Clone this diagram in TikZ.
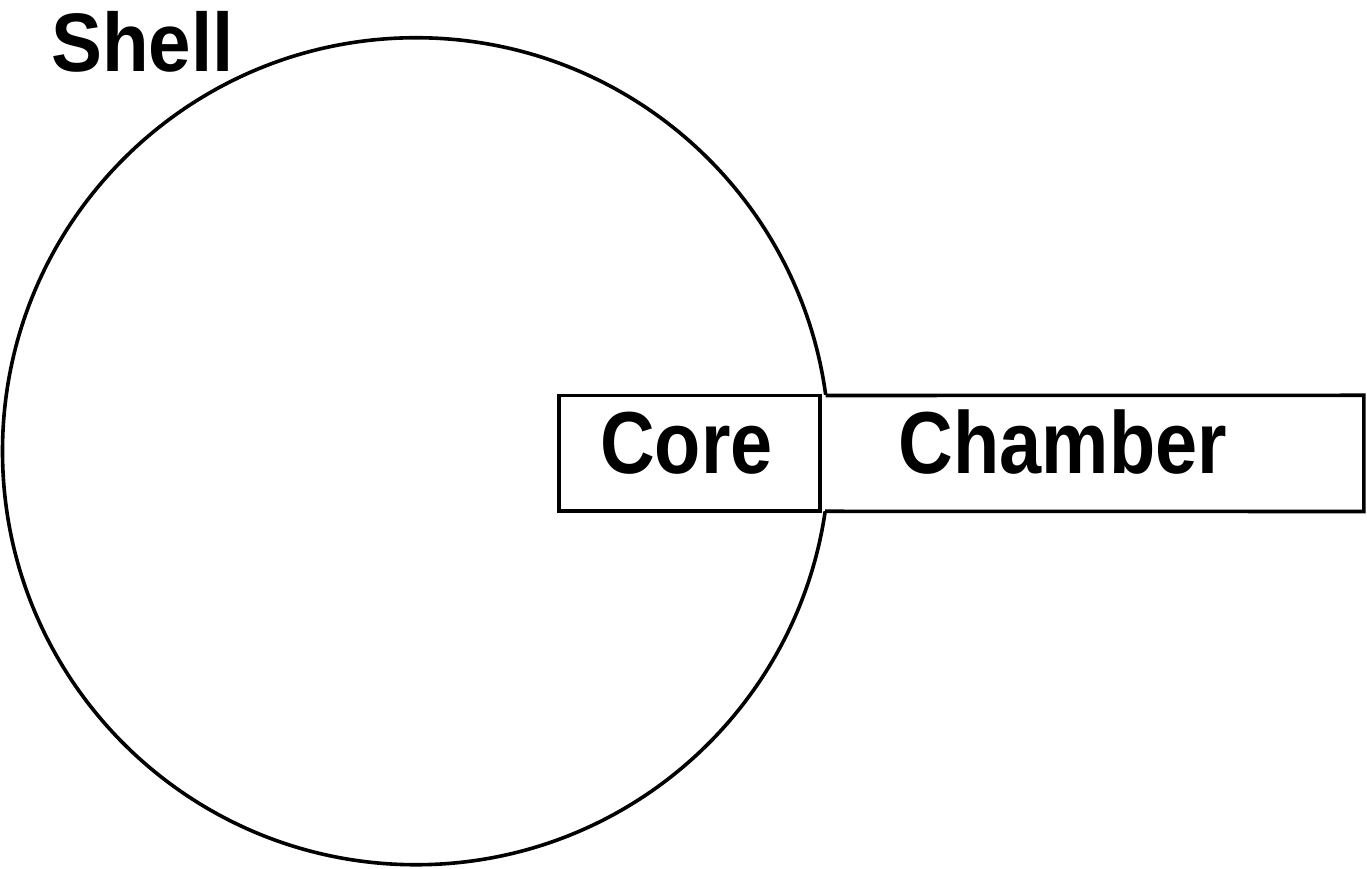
\documentclass[tikz,border=0pt]{standalone}
\usepackage{fontspec}
\newfontfamily\corefont{Liberation Sans}[FakeStretch=0.86]
\newfontfamily\shellfont{Liberation Sans}[FakeStretch=0.92]
\begin{document}
\begin{tikzpicture}[x=1pt,y=1pt,
  outline/.style={line width=3.6pt, draw=black},
  boxlbl/.style={anchor=base, inner sep=0pt, font=\corefont\bfseries\fontsize{88}{88}\selectfont},
  shelllbl/.style={anchor=base west, inner sep=0pt, font=\shellfont\bfseries\fontsize{83}{83}\selectfont}]
\useasboundingbox (0,0) rectangle (1367,869);
% shell circle
\coordinate (shellc) at (416,417.75);
\draw[outline] (shellc) circle[radius=413.5pt];
% chamber (white band, open on the circle side)
\node[rectangle, fill=white, draw=none, inner sep=0pt, minimum width=544pt, minimum height=115.8pt] (chamber) at (1091.7,415.6) {};
\coordinate (chtl) at (825.7,473.5);
\coordinate (chbl) at (825.1,357.7);
\draw[outline, line join=miter] (chtl) -- (chamber.north east) -- (chamber.south east) -- (chbl);
% core box
\node[rectangle, fill=white, outline, inner sep=0pt, minimum width=260.7pt, minimum height=115.8pt] (core) at (689.35,415.6) {};
% labels
\node[boxlbl] (corelbl) at (686.5,395.5) {Core};
\node[boxlbl] (chamberlbl) at (1063,395.5) {Chamber};
\node[shelllbl] (shelllbl) at (51,797) {Shell};
\end{tikzpicture}
\end{document}
